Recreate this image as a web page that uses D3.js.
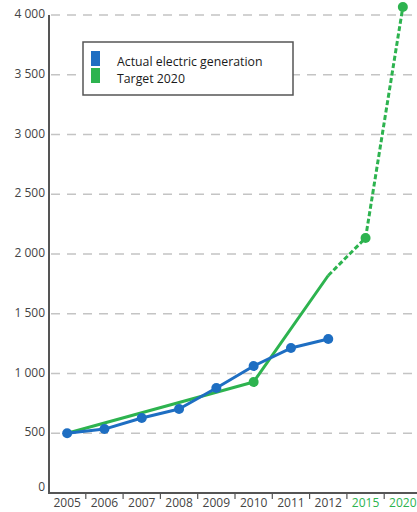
<!DOCTYPE html>
<html>
<head>
<meta charset="utf-8">
<script src="https://cdn.jsdelivr.net/npm/d3@7"></script>
<style>
  html, body { margin: 0; padding: 0; background: #ffffff; }
  svg { display: block; font-family: "Open Sans", sans-serif; }
</style>
</head>
<body>
<svg id="chart" width="417" height="512"></svg>
<script>
// Years on the horizontal axis (the last two are target years)
const categories = ["2005", "2006", "2007", "2008", "2009", "2010", "2011", "2012", "2015", "2020"];
const targetYears = ["2015", "2020"];

// Actual electric generation
const actualYears = ["2005", "2006", "2007", "2008", "2009", "2010", "2011", "2012"];
const actualValues = [500, 535, 628, 703, 879, 1063, 1213, 1289];

// Target path toward 2020 (2012 is a bend point with no marker)
const targetYearsPath = ["2005", "2010", "2012", "2015", "2020"];
const targetValues = [500, 929, 1820, 2134, 4067];
const targetMarkers = ["2010", "2015", "2020"];
const targetDashFrom = "2012";

const yTicks = [0, 500, 1000, 1500, 2000, 2500, 3000, 3500, 4000];
const legendLabels = ["Actual electric generation", "Target 2020"];

const blue = "#1e6ec2";
const green = "#2db34f";

const svg = d3.select("#chart");

const x = d3.scalePoint().domain(categories).range([48.5, 421.5]).padding(0.5);
const y = d3.scaleLinear().domain([0, 4000]).range([493, 15]);
const step = x.step();

const fmt = d3.formatLocale({ decimal: ".", thousands: " ", grouping: [3], currency: ["", ""] }).format(",");

// Dashed horizontal gridlines
svg.append("g")
  .selectAll("line")
  .data(yTicks.filter(v => v > 0))
  .join("line")
  .attr("x1", 51).attr("x2", 417)
  .attr("y1", d => y(d)).attr("y2", d => y(d))
  .attr("stroke", "#c4c4c4")
  .attr("stroke-width", 1.5)
  .attr("stroke-dasharray", "9,7");

// Y tick labels
svg.append("g")
  .selectAll("text")
  .data(yTicks)
  .join("text")
  .attr("x", 45)
  .attr("y", d => d === 0 ? y(d) - 2 : y(d) + 3)
  .attr("text-anchor", "end")
  .attr("font-size", 12)
  .attr("fill", "#444")
  .text(d => fmt(d));

// Axes lines
svg.append("line")
  .attr("x1", 49).attr("x2", 49)
  .attr("y1", y(4000)).attr("y2", y(0) + 1)
  .attr("stroke", "#555").attr("stroke-width", 2);
svg.append("line")
  .attr("x1", 48).attr("x2", 417)
  .attr("y1", y(0)).attr("y2", y(0))
  .attr("stroke", "#555").attr("stroke-width", 2);

// Small separators between year labels
svg.append("g")
  .selectAll("line")
  .data(categories.slice(0, -1))
  .join("line")
  .attr("x1", d => x(d) + step / 2).attr("x2", d => x(d) + step / 2)
  .attr("y1", y(0) + 1).attr("y2", y(0) + 6)
  .attr("stroke", "#555").attr("stroke-width", 1.2);

// Year labels
svg.append("g")
  .selectAll("text")
  .data(categories)
  .join("text")
  .attr("x", d => x(d))
  .attr("y", 507)
  .attr("text-anchor", "middle")
  .attr("font-size", 12)
  .attr("fill", d => targetYears.includes(d) ? green : "#444")
  .text(d => d);

// Target series: solid part, then dashed projection
const targetPts = targetYearsPath.map((c, i) => ({ c, v: targetValues[i] }));
const line = d3.line().x(d => x(d.c)).y(d => y(d.v));
const splitIdx = targetYearsPath.indexOf(targetDashFrom);

svg.append("path")
  .datum(targetPts.slice(0, splitIdx + 1))
  .attr("d", line)
  .attr("fill", "none")
  .attr("stroke", green)
  .attr("stroke-width", 3)
  .attr("stroke-linejoin", "round");

svg.append("path")
  .datum(targetPts.slice(splitIdx))
  .attr("d", line)
  .attr("fill", "none")
  .attr("stroke", green)
  .attr("stroke-width", 3)
  .attr("stroke-dasharray", "5,2.5");

svg.append("g")
  .selectAll("circle")
  .data(targetPts.filter(d => targetMarkers.includes(d.c)))
  .join("circle")
  .attr("cx", d => x(d.c)).attr("cy", d => y(d.v))
  .attr("r", 5)
  .attr("fill", green);

// Actual generation series
const actualPts = actualYears.map((c, i) => ({ c, v: actualValues[i] }));
svg.append("path")
  .datum(actualPts)
  .attr("d", line)
  .attr("fill", "none")
  .attr("stroke", blue)
  .attr("stroke-width", 3)
  .attr("stroke-linejoin", "round");

svg.append("g")
  .selectAll("circle")
  .data(actualPts)
  .join("circle")
  .attr("cx", d => x(d.c)).attr("cy", d => y(d.v))
  .attr("r", 5)
  .attr("fill", blue);

// Legend
const legend = svg.append("g");
legend.append("rect")
  .attr("x", 83).attr("y", 42)
  .attr("width", 210).attr("height", 53)
  .attr("fill", "#ffffff")
  .attr("stroke", "#555")
  .attr("stroke-width", 1.5);

const legendColors = [blue, green];
legendLabels.forEach((label, i) => {
  legend.append("rect")
    .attr("x", 91).attr("y", 51 + i * 17)
    .attr("width", 9).attr("height", 15)
    .attr("fill", legendColors[i]);
  legend.append("text")
    .attr("x", 117).attr("y", 66 + i * 17)
    .attr("font-size", 12.3)
    .attr("fill", "#1a1a1a")
    .text(label);
});
</script>
</body>
</html>
